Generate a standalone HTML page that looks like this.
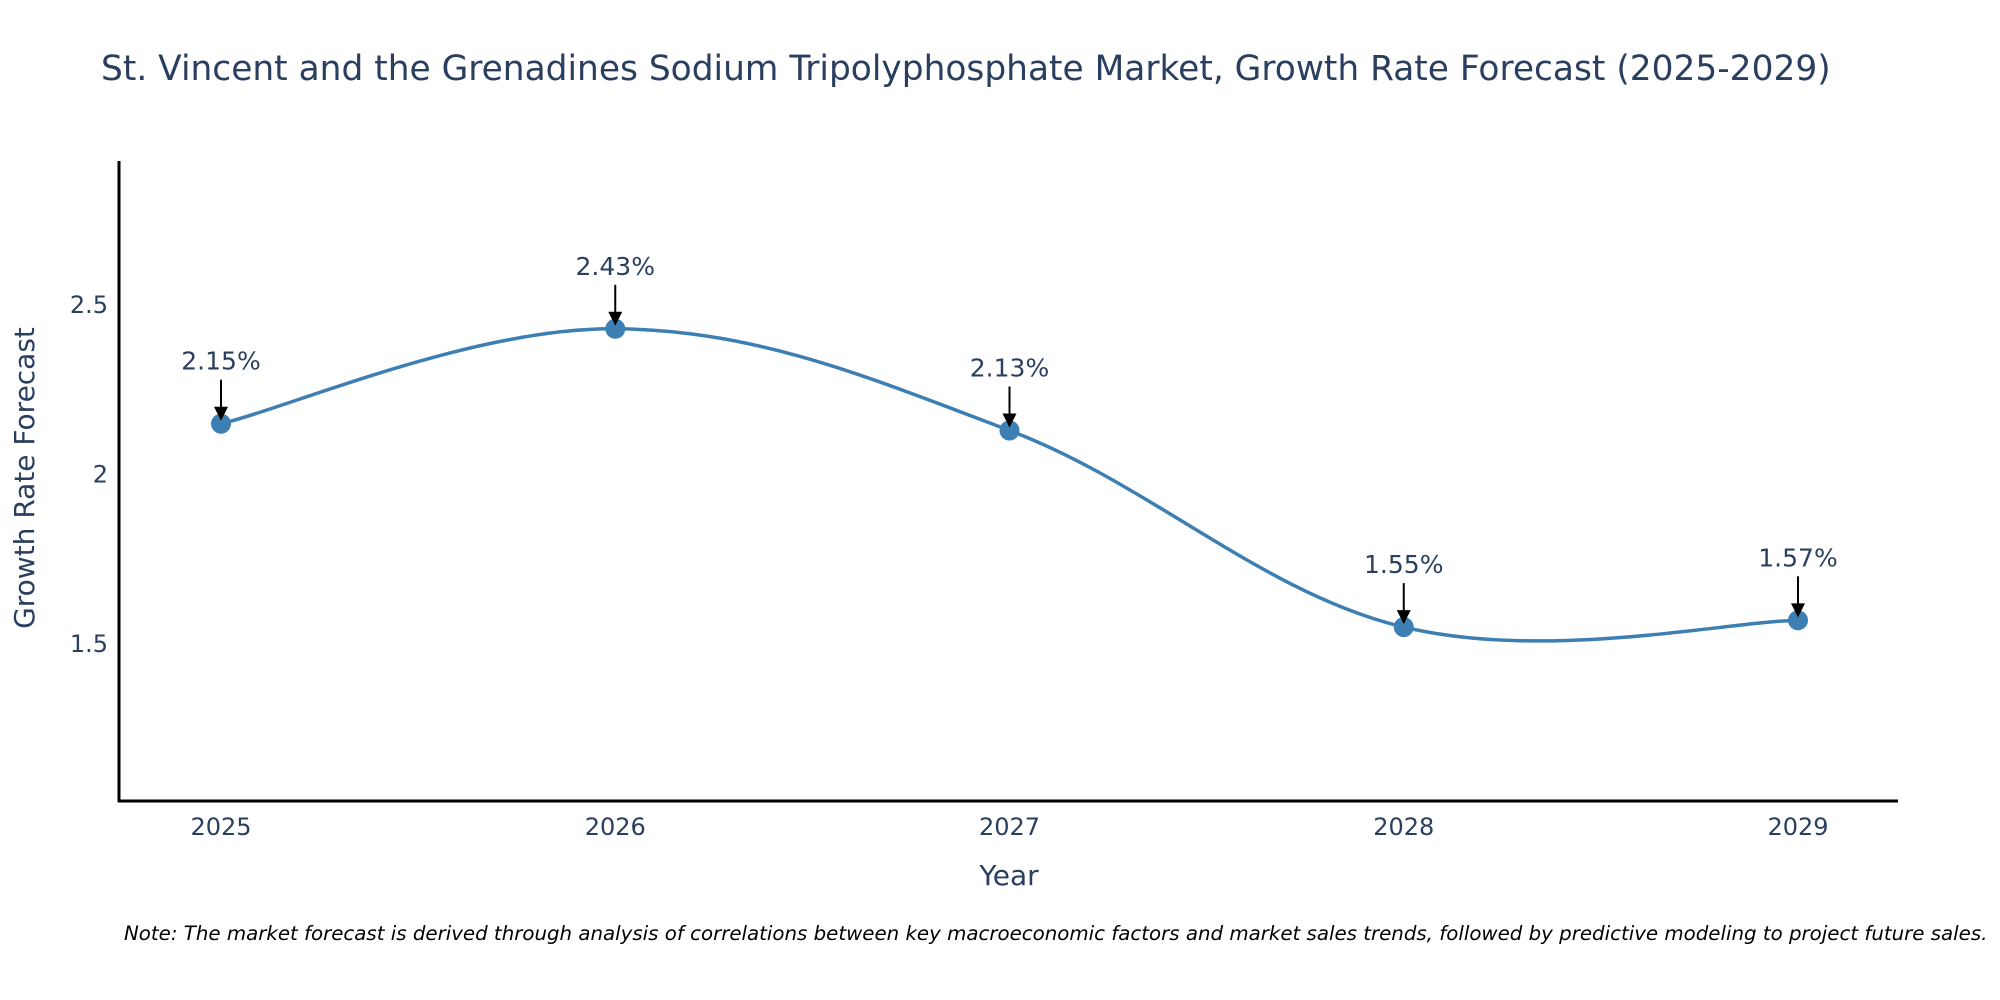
<!DOCTYPE html>
<html><head><meta charset="utf-8"><style>
html,body{margin:0;padding:0;background:#fff;}
svg{display:block;font-family:"DejaVu Sans","Liberation Sans",sans-serif;}
</style></head><body>
<svg id="chart" width="2000" height="1000" viewBox="0 0 2000 1000" xmlns="http://www.w3.org/2000/svg">
<text x="101" y="80" font-size="34.4" fill="#2a3f5f">St. Vincent and the Grenadines Sodium Tripolyphosphate Market, Growth Rate Forecast (2025-2029)</text>
<g id="yticks"></g><g id="xticks"></g>
<line x1="119" y1="161" x2="119" y2="802" stroke="#000" stroke-width="3"/>
<line x1="118" y1="801" x2="1898" y2="801" stroke="#000" stroke-width="3"/>
<path id="line" fill="none" stroke="#3d7fb3" stroke-width="3.5"/>
<g id="points"></g><g id="annots"></g>
<text x="1009" y="885" font-size="28" fill="#2a3f5f" text-anchor="middle">Year</text>
<text transform="translate(34,478) rotate(-90)" font-size="28" fill="#2a3f5f" text-anchor="middle">Growth Rate Forecast</text>
<text x="124" y="940" font-size="19.8" font-style="italic" fill="#000">Note: The market forecast is derived through analysis of correlations between key macroeconomic factors and market sales trends, followed by predictive modeling to project future sales.</text>
</svg>
<script>
const years=[2025,2026,2027,2028,2029];
const values=[2.15,2.43,2.13,1.55,1.57];
const labels=["2.15%","2.43%","2.13%","1.55%","1.57%"];
const yTicks=[1.5,2,2.5];
const NS="http://www.w3.org/2000/svg";
const X0=221,X1=1798,yMin=1.037,yMax=2.925,PT=161,PB=801;
const xs=v=>X0+(v-years[0])*(X1-X0)/(years[years.length-1]-years[0]);
const ys=v=>PB-(v-yMin)*(PB-PT)/(yMax-yMin);
function mk(tag,attrs,parent,txt){const e=document.createElementNS(NS,tag);for(const k in attrs)e.setAttribute(k,attrs[k]);if(txt!==undefined)e.textContent=txt;parent.appendChild(e);return e;}
const yt=document.getElementById('yticks');
yTicks.forEach(t=>{const e=mk('text',{x:108,y:ys(t)+8,'font-size':24,fill:'#2a3f5f','text-anchor':'end'},yt,String(t));

});
const xt=document.getElementById('xticks');
years.forEach(y=>{const e=mk('text',{x:xs(y),y:835,'font-size':24,fill:'#2a3f5f','text-anchor':'middle'},xt,String(y));

});
const P=years.map((y,i)=>[xs(y),ys(values[i])]);
let d='M'+P[0][0]+','+P[0][1];const k=0.18;
for(let i=0;i<P.length-1;i++){const p0=P[Math.max(0,i-1)],p1=P[i],p2=P[i+1],p3=P[Math.min(P.length-1,i+2)];
const c1=[p1[0]+(p2[0]-p0[0])*k,p1[1]+(p2[1]-p0[1])*k],c2=[p2[0]-(p3[0]-p1[0])*k,p2[1]-(p3[1]-p1[1])*k];
d+=` C${c1[0]},${c1[1]} ${c2[0]},${c2[1]} ${p2[0]},${p2[1]}`;}
document.getElementById('line').setAttribute('d',d);
const pts=document.getElementById('points'),an=document.getElementById('annots');
P.forEach((p,i)=>{const c=mk('circle',{cx:p[0],cy:p[1],r:10,fill:'#3d7fb3'},pts);


const g=mk('g',{},an);


mk('line',{x1:p[0],y1:p[1]-44,x2:p[0],y2:p[1]-14,stroke:'#000','stroke-width':2},g);
mk('path',{d:`M${p[0]-7},${p[1]-17} L${p[0]+7},${p[1]-17} L${p[0]},${p[1]-3} Z`,fill:'#000'},g);
mk('text',{x:p[0],y:p[1]-54,'font-size':25,fill:'#2a3f5f','text-anchor':'middle'},g,labels[i]);});
</script>
</body></html>
